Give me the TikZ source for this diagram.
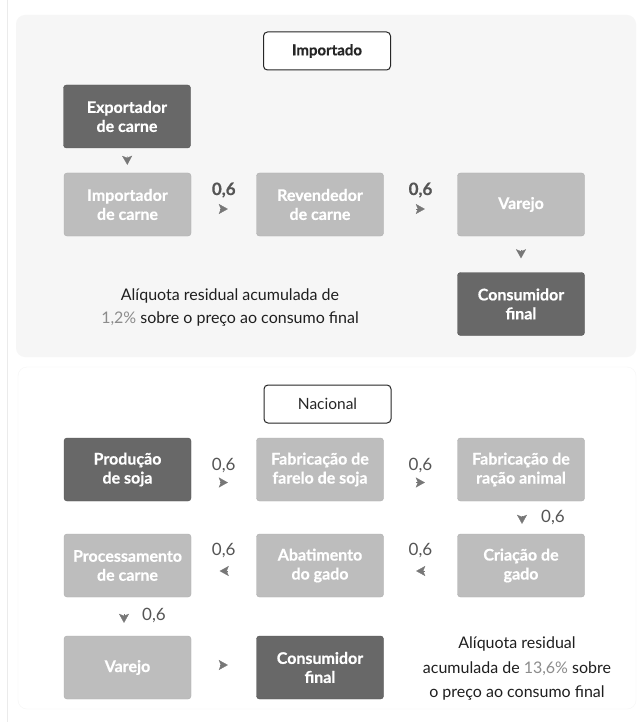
\documentclass[tikz,border=0pt]{standalone}
\usepackage{fontspec}
\setmainfont{Lato}
\newfontfamily\boxfont{Lato}[BoldFeatures={FakeBold=0.6}]
\usetikzlibrary{arrows.meta}
\definecolor{paneltop}{HTML}{F6F6F6}
\definecolor{darkbox}{HTML}{686868}
\definecolor{lightbox}{HTML}{BDBDBD}
\definecolor{tipgray}{HTML}{777777}
\definecolor{numgray}{HTML}{555555}
\definecolor{pctgray}{HTML}{8C8C8C}
\tikzset{
  x=1pt, y=-1pt,
  box/.style={rounded corners=3pt, minimum width=127pt, minimum height=63pt,
    align=center, text=white, font=\boxfont\fontsize{16}{19}\selectfont\bfseries, inner sep=1pt},
  darkb/.style={box, fill=darkbox, draw=darkbox!80!black},
  lightb/.style={box, fill=lightbox, draw=lightbox!92!black},
  titleb/.style={rounded corners=4pt, minimum width=127pt, minimum height=38pt,
    fill=white, draw=black!85, line width=1pt, text=black!85},
  tri/.style={tipgray, line width=0.2pt, -{Stealth[length=9pt,width=10pt,inset=2pt]}},
  numtop/.style={text=numgray, font=\boxfont\fontsize{17}{17}\selectfont\bfseries},
  numbot/.style={text=numgray, font=\fontsize{17}{17}\selectfont},
  note/.style={align=center, text=black!88, font=\fontsize{16}{23}\selectfont}
}
\begin{document}
\begin{tikzpicture}
\useasboundingbox (0,0) rectangle (637,722);
\fill[white] (0,0) rectangle (637,722);
% faint left rule
\draw[black!8, line width=0.6pt] (7,0) -- (7,722);
% panels
\fill[paneltop, rounded corners=9pt] (16,15) rectangle (636,357);
\draw[black!4, fill=white, rounded corners=9pt] (18,367) rectangle (636,709);

% ---------------- Importado ----------------
\node[titleb, font=\boxfont\fontsize{15}{18}\selectfont\bfseries] (imp) at (327,51) {Importado};
\node[darkb] (exp) at (127,116.5) {Exportador\\de carne};
\node[lightb] (impc) at (127.5,204.5) {Importador\\de carne};
\node[lightb] (rev) at (320,204.5) {Revendedor\\de carne};
\node[lightb] (var1) at (521,204.5) {Varejo};
\node[darkb] (con1) at (521,304) {Consumidor\\final};
\node[note] (txt1) at (230,307.5) {Alíquota residual acumulada de\\{\color{pctgray}1,2\%} sobre o preço ao consumo final};

\draw[tri, shorten <=8pt, shorten >=8pt] (exp.south) -- (impc.north);
\draw[tri, shorten <=28.5pt, shorten >=28.5pt] ([yshift=-4.5pt]impc.east) -- node[numtop, pos=0.5, yshift=19pt] {0,6} ([yshift=-4.5pt]rev.west);
\draw[tri, shorten <=32.5pt, shorten >=32.5pt] ([yshift=-4.5pt]rev.east) -- node[numtop, pos=0.5, yshift=19pt] {0,6} ([yshift=-4.5pt]var1.west);
\draw[tri, shorten <=14pt, shorten >=14pt] (var1.south) -- (con1.north);

% ---------------- Nacional ----------------
\node[titleb, font=\fontsize{15.5}{18}\selectfont] (nac) at (327.5,404) {Nacional};
\node[darkb] (soja) at (127.5,469.5) {Produção\\de soja};
\node[lightb] (far) at (320,469.5) {Fabricação de\\farelo de soja};
\node[lightb] (rac) at (521,469.5) {Fabricação de\\ração animal};
\node[lightb] (pro) at (127.5,565.5) {Processamento\\de carne};
\node[lightb] (aba) at (320,565.5) {Abatimento\\do gado};
\node[lightb] (cri) at (521,565.5) {Criação de\\gado};
\node[lightb] (var2) at (127.5,667.5) {Varejo};
\node[darkb] (con2) at (320,667.5) {Consumidor\\final};
\node[note, font=\fontsize{16}{24.5}\selectfont] (txt2) at (517,669) {Alíquota residual\\acumulada de {\color{pctgray}13,6\%} sobre\\o preço ao consumo final};

\draw[tri, shorten <=28.5pt, shorten >=28.5pt] ([yshift=-13pt]soja.east) -- node[numbot, pos=0.5, yshift=17pt] {0,6} ([yshift=-13pt]far.west);
\draw[tri, shorten <=32.5pt, shorten >=32.5pt] ([yshift=-13pt]far.east) -- node[numbot, pos=0.5, yshift=17pt] {0,6} ([yshift=-13pt]rac.west);
\draw[tri, shorten <=15pt, shorten >=10pt] ([xshift=1pt]rac.south) -- node[numbot, pos=0.5, xshift=31pt, yshift=0pt] {0,6} ([xshift=1pt]cri.north);
\draw[tri, shorten <=32.5pt, shorten >=32.5pt] ([yshift=-5.5pt]cri.west) -- node[numbot, pos=0.5, yshift=21pt] {0,6} ([yshift=-5.5pt]aba.east);
\draw[tri, shorten <=28.5pt, shorten >=28.5pt] ([yshift=-5.5pt]aba.west) -- node[numbot, pos=0.5, yshift=21pt] {0,6} ([yshift=-5.5pt]pro.east);
\draw[tri, shorten <=17pt, shorten >=13pt] ([xshift=-3.5pt]pro.south) -- node[numbot, pos=0.5, xshift=30pt, yshift=1pt] {0,6} ([xshift=-3.5pt]var2.north);
\draw[tri, shorten <=28.5pt, shorten >=28.5pt] ([yshift=2.5pt]var2.east) -- ([yshift=2.5pt]con2.west);
\end{tikzpicture}
\end{document}
